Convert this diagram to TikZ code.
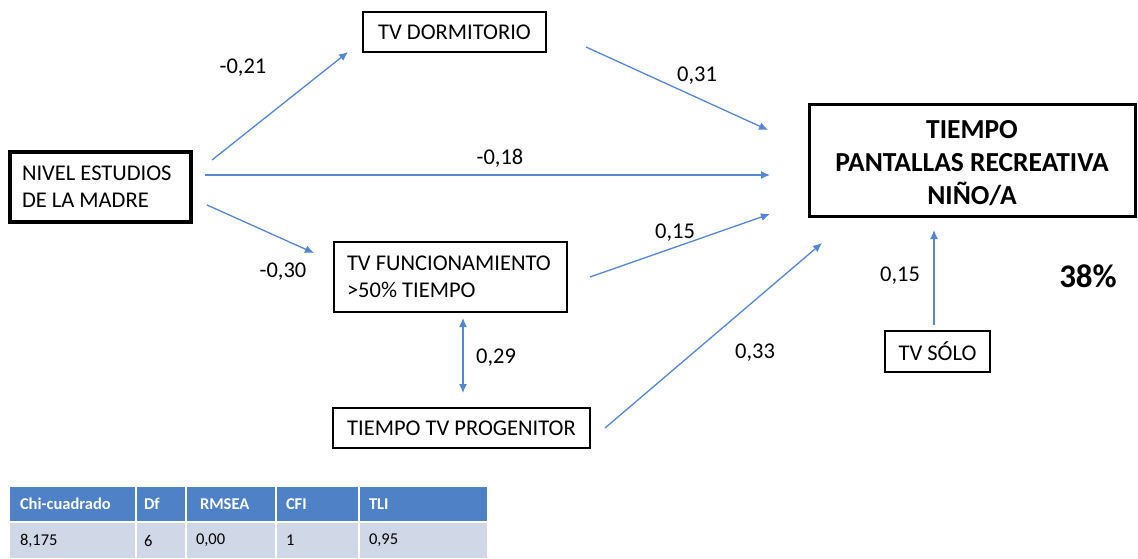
\documentclass[tikz,border=0pt]{standalone}
\usepackage{fontspec}
\setmainfont{Carlito}
\usetikzlibrary{arrows.meta,calc}
\definecolor{arr}{RGB}{84,134,212}
\definecolor{thead}{RGB}{79,129,199}
\definecolor{tbody}{RGB}{208,216,232}
\begin{document}
\begin{tikzpicture}[x=1pt,y=-1pt,
  box/.style={draw=black,line width=2.6pt,minimum width=#1,inner sep=0pt,outer sep=0pt,font=\fontsize{22.5}{27}\selectfont},
  conn/.style={draw=arr,line width=1.3pt,-{Latex[length=9pt,width=8pt]}},
  lab/.style={font=\fontsize{22.5}{26}\selectfont,inner sep=0pt},
  hcell/.style={fill=thead,text=white,font=\fontsize{16.5}{19}\selectfont\bfseries,minimum height=34pt,inner sep=0pt,outer sep=0pt,anchor=north west,text width=#1,align=flush left},
  bcell/.style={fill=tbody,font=\fontsize{16.5}{19}\selectfont,minimum height=35pt,inner sep=0pt,outer sep=0pt,anchor=north west,text width=#1,align=flush left}]
\useasboundingbox (0,0) rectangle (1138,558);
% nodes
\node[box=181pt,minimum height=70pt,line width=3.6pt,align=flush left,text width=157pt] (nivel) at (100.5,187) {NIVEL ESTUDIOS\\DE LA MADRE};
\node[box=183pt,minimum height=40pt] (dorm) at (454.5,32) {TV DORMITORIO};
\node[box=233pt,minimum height=70pt,align=flush left,text width=207pt] (func) at (450.5,277) {TV FUNCIONAMIENTO\\>50\% TIEMPO};
\node[box=257pt,minimum height=40pt] (prog) at (461.5,428) {TIEMPO TV PROGENITOR};
\node[box=326pt,minimum height=112pt,line width=3pt,align=center,font=\fontsize{27.5}{33}\selectfont\bfseries] (main) at (972,160) {\rule{0pt}{24pt}TIEMPO\\PANTALLAS RECREATIVA\\NIÑO/A};
\node[box=105pt,minimum height=41pt] (solo) at (937.5,351.5) {TV SÓLO};
\node[font=\fontsize{33}{36}\selectfont\bfseries,inner sep=0pt] (r2) at (1088,276) {38\%};
% connectors
\draw[conn] ($(nivel.east)+(21,-27)$) -- ($(dorm.south west)+(-15,0)$);
\node[lab] (l1) at (243,68) {-0,21};
\draw[conn] ($(nivel.east)+(14,-12)$) -- ($(main.west)+(-39,15)$);
\node[lab] (l2) at (500,158) {-0,18};
\draw[conn] ($(nivel.east)+(16,18)$) -- ($(func.west)+(-20,-24)$);
\node[lab] (l3) at (283,272) {-0,30};
\draw[conn] ($(dorm.south east)+(40,-5)$) -- ($(main.west)+(-41,-30)$);
\node[lab] (l4) at (697,76) {0,31};
\draw[conn] ($(func.east)+(23,0)$) -- ($(main.west)+(-39,54)$);
\node[lab] (l5) at (675,233) {0,15};
\draw[conn] ($(prog.east)+(15,0)$) -- ($(main.south west)+(13,27)$);
\node[lab] (l6) at (755,353) {0,33};
\draw[conn] ($(solo.north)+(-3.5,-6)$) -- ($(main.south)+(-38,14)$);
\node[lab] (l7) at (900,276) {0,15};
\draw[conn,{Latex[length=9pt,width=8pt]}-{Latex[length=9pt,width=8pt]}] ($(func.south)+(12.5,6)$) -- ($(prog.north)+(1.5,-15)$);
\node[lab] (l8) at (496,358) {0,29};
% table
\node[hcell=125pt] (h1) at (10,487) {\hspace*{10pt}Chi-cuadrado};
\node[hcell=48pt] (h2) at (137,487) {\hspace*{7pt}Df};
\node[hcell=88pt] (h3) at (187,487) {\hspace*{13pt}RMSEA};
\node[hcell=81pt] (h4) at (277,487) {\hspace*{9pt}CFI};
\node[hcell=127pt] (h5) at (360,487) {\hspace*{9pt}TLI};
\node[bcell=125pt] (b1) at (10,523) {\hspace*{10pt}8,175};
\node[bcell=48pt] (b2) at (137,523) {\hspace*{7pt}6};
\node[bcell=88pt] (b3) at (187,523) {\hspace*{9pt}0,00};
\node[bcell=81pt] (b4) at (277,523) {\hspace*{9pt}1};
\node[bcell=127pt] (b5) at (360,523) {\hspace*{9pt}0,95};
\end{tikzpicture}
\end{document}
